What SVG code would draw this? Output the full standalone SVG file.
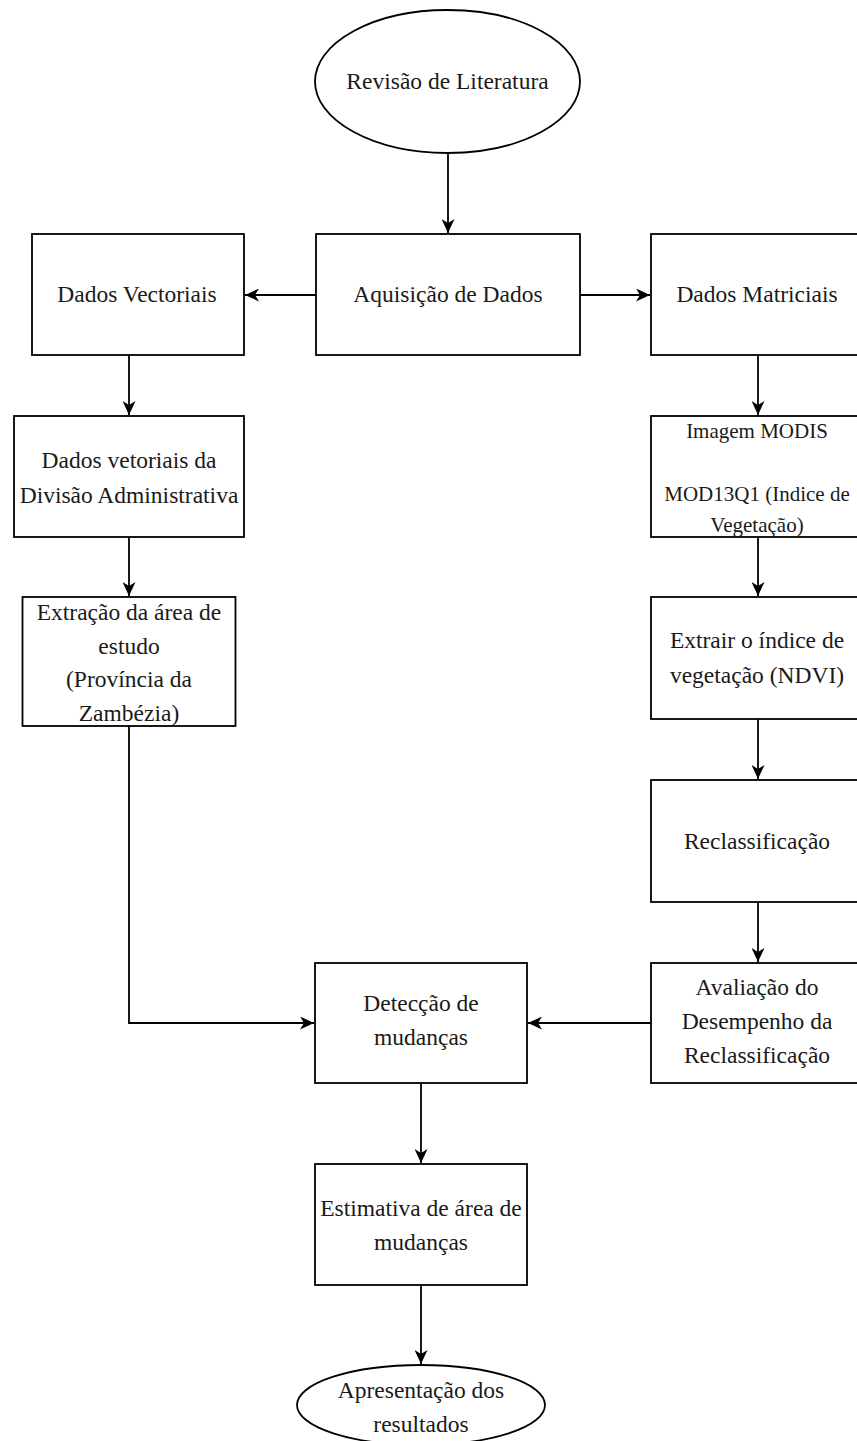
<svg xmlns="http://www.w3.org/2000/svg" width="857" height="1441" viewBox="0 0 857 1441">
<style>
.s{fill:#fff;stroke:#000;stroke-width:1.8}
.t{font-family:"Liberation Serif","Times New Roman",serif;font-size:23.5px;fill:#1a1a1a;text-anchor:middle}
.sm{font-size:21px}
.c{fill:none;stroke:#000;stroke-width:1.8}
</style>
<defs>
<marker id="a" viewBox="0 0 14 13" refX="14" refY="6.5" markerWidth="14" markerHeight="13" markerUnits="userSpaceOnUse" orient="auto">
<path d="M0,0 L14,6.5 L0,13 L4,6.5 Z" fill="#000"/>
</marker>
</defs>
<rect width="857" height="1441" fill="#fff"/>
<g id="connectors">
<path class="c" d="M448,153 V233" marker-end="url(#a)"/>
<path class="c" d="M316,295 H245" marker-end="url(#a)"/>
<path class="c" d="M580,295 H650" marker-end="url(#a)"/>
<path class="c" d="M129,355 V415" marker-end="url(#a)"/>
<path class="c" d="M129,537 V596" marker-end="url(#a)"/>
<path class="c" d="M758,355 V415" marker-end="url(#a)"/>
<path class="c" d="M758,537 V596" marker-end="url(#a)"/>
<path class="c" d="M758,719 V779" marker-end="url(#a)"/>
<path class="c" d="M758,902 V962" marker-end="url(#a)"/>
<path class="c" d="M129,726 V1023 H314" marker-end="url(#a)"/>
<path class="c" d="M651,1023 H528" marker-end="url(#a)"/>
<path class="c" d="M421,1083 V1163" marker-end="url(#a)"/>
<path class="c" d="M421,1285 V1364" marker-end="url(#a)"/>
</g>
<g id="n-revisao">
<ellipse class="s" cx="447.5" cy="81.5" rx="132.5" ry="71.5"/>
<text class="t" x="447.5" y="89">Revisão de Literatura</text>
</g>
<g id="n-aquisicao">
<rect class="s" x="316" y="234" width="264" height="121"/>
<text class="t" x="448" y="302">Aquisição de Dados</text>
</g>
<g id="n-vectoriais">
<rect class="s" x="32" y="234" width="212" height="121"/>
<text class="t" x="137" y="302">Dados Vectoriais</text>
</g>
<g id="n-matriciais">
<rect class="s" x="651" y="234" width="212" height="121"/>
<text class="t" x="757" y="302">Dados Matriciais</text>
</g>
<g id="n-divisao">
<rect class="s" x="14" y="416" width="230" height="121"/>
<text class="t" x="129" y="468">Dados vetoriais da</text>
<text class="t" x="129" y="503">Divisão Administrativa</text>
</g>
<g id="n-modis">
<rect class="s" x="651" y="416" width="212" height="121"/>
<text class="t sm" x="757" y="438">Imagem MODIS</text>
<text class="t sm" x="757" y="501">MOD13Q1 (Indice de</text>
<text class="t sm" x="757" y="532">Vegetação)</text>
</g>
<g id="n-extracao">
<rect class="s" x="22.5" y="597" width="213" height="129"/>
<text class="t" x="129" y="620">Extração da área de</text>
<text class="t" x="129" y="653.5">estudo</text>
<text class="t" x="129" y="687">(Província da</text>
<text class="t" x="129" y="720.5">Zambézia)</text>
</g>
<g id="n-ndvi">
<rect class="s" x="651" y="597" width="212" height="122"/>
<text class="t" x="757" y="648">Extrair o índice de</text>
<text class="t" x="757" y="683">vegetação (NDVI)</text>
</g>
<g id="n-reclass">
<rect class="s" x="651" y="780" width="212" height="122"/>
<text class="t" x="757" y="849">Reclassificação</text>
</g>
<g id="n-avaliacao">
<rect class="s" x="651" y="963" width="212" height="120"/>
<text class="t" x="757" y="995">Avaliação do</text>
<text class="t" x="757" y="1029">Desempenho da</text>
<text class="t" x="757" y="1063">Reclassificação</text>
</g>
<g id="n-deteccao">
<rect class="s" x="315" y="963" width="212" height="120"/>
<text class="t" x="421" y="1011">Detecção de</text>
<text class="t" x="421" y="1045">mudanças</text>
</g>
<g id="n-estimativa">
<rect class="s" x="315" y="1164" width="212" height="121"/>
<text class="t" x="421" y="1216">Estimativa de área de</text>
<text class="t" x="421" y="1250">mudanças</text>
</g>
<g id="n-apresentacao">
<ellipse class="s" cx="421" cy="1405" rx="124" ry="40"/>
<text class="t" x="421" y="1398">Apresentação dos</text>
<text class="t" x="421" y="1432">resultados</text>
</g>
</svg>
